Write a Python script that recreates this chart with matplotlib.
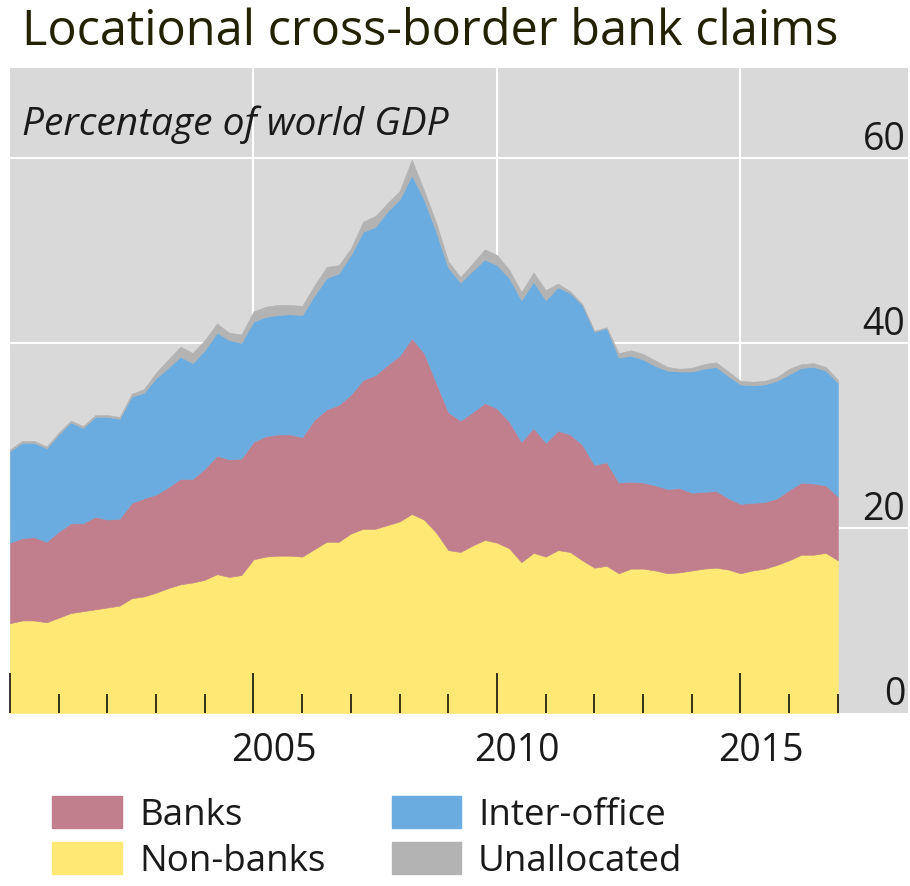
import numpy as np
import matplotlib
matplotlib.use("Agg")
import matplotlib.pyplot as plt
from matplotlib.patches import Patch
from matplotlib.transforms import ScaledTranslation

# --- dados (% do PIB mundial), trimestral 2000Q1 .. 2017Q1 ---
trimestres = np.arange(2000, 2017.01, 0.25)

non_banks = [9.7, 10.0, 10.0, 9.8, 10.3, 10.8, 11.0, 11.2, 11.4, 11.6,
             12.4, 12.6, 13.0, 13.5, 13.9, 14.1, 14.4, 15.0, 14.7, 14.9,
             16.6, 16.9, 17.0, 17.0, 16.9, 17.7, 18.5, 18.5, 19.4, 19.9,
             19.9, 20.3, 20.7, 21.5, 20.9, 19.5, 17.6, 17.4, 18.1, 18.7,
             18.4, 17.8, 16.3, 17.3, 16.9, 17.6, 17.4, 16.5, 15.7, 15.9,
             15.1, 15.6, 15.6, 15.4, 15.1, 15.2, 15.4, 15.6, 15.7, 15.5,
             15.1, 15.4, 15.6, 16.0, 16.5, 17.1, 17.1, 17.3, 16.5]

banks = [8.7, 8.9, 9.0, 8.7, 9.3, 9.7, 9.5, 10.0, 9.5, 9.4,
         10.3, 10.6, 10.6, 10.9, 11.4, 11.2, 12.0, 12.8, 12.7, 12.6,
         12.7, 13.0, 13.1, 13.1, 12.9, 14.0, 14.3, 14.8, 15.0, 16.1,
         16.6, 17.3, 17.9, 19.0, 18.0, 16.2, 14.9, 14.2, 14.4, 14.8,
         14.5, 13.7, 13.0, 13.5, 12.3, 12.9, 12.7, 12.5, 11.1, 11.2,
         9.8, 9.4, 9.3, 9.2, 9.1, 9.1, 8.4, 8.3, 8.3, 7.7,
         7.5, 7.3, 7.2, 7.2, 7.6, 7.8, 7.7, 7.3, 6.9]

inter_office = [9.9, 10.3, 10.2, 10.1, 10.5, 10.9, 10.3, 10.8, 11.1, 10.8,
                11.5, 11.4, 12.6, 12.9, 13.2, 12.5, 12.8, 13.3, 12.9, 12.5,
                13.0, 12.9, 12.9, 13.0, 13.2, 13.4, 14.2, 14.2, 15.1, 16.0,
                16.0, 16.6, 16.9, 17.6, 16.6, 16.3, 15.6, 14.9, 15.3, 15.5,
                15.5, 15.5, 15.3, 15.8, 15.4, 15.5, 15.3, 15.1, 14.4, 14.5,
                13.5, 13.6, 13.3, 12.9, 12.8, 12.6, 13.1, 13.3, 13.4, 13.2,
                12.9, 12.7, 12.7, 12.7, 12.5, 12.4, 12.6, 12.4, 12.3]

unallocated = [0.2, 0.2, 0.2, 0.2, 0.2, 0.2, 0.2, 0.2, 0.2, 0.2,
               0.3, 0.4, 0.6, 0.9, 1.1, 1.1, 1.1, 1.0, 0.8, 0.9,
               1.1, 1.1, 1.1, 1.0, 1.0, 1.1, 1.2, 0.9, 0.7, 1.1,
               1.2, 0.9, 0.9, 1.7, 1.0, 1.0, 0.7, 0.6, 0.8, 1.1,
               1.1, 0.9, 0.9, 1.0, 1.1, 0.4, 0.2, 0.1, 0.1, 0.1,
               0.5, 0.6, 0.6, 0.6, 0.4, 0.3, 0.4, 0.5, 0.5, 0.5,
               0.4, 0.4, 0.4, 0.4, 0.6, 0.4, 0.4, 0.4, 0.3]

series_nomes = ["Non-banks", "Banks", "Inter-office", "Unallocated"]
cores = ["#FFE873", "#C17F8E", "#6AACDF", "#B3B3B3"]

anos_grade = [2005, 2010, 2015]
y_grade = [20, 40, 60]
y_rotulos = [0, 20, 40, 60]
anos_major = [2000, 2005, 2010, 2015]
anos_rotulo = ["", "2005", "2010", "2015"]
anos_minor = [2001, 2002, 2003, 2004, 2006, 2007, 2008, 2009,
              2011, 2012, 2013, 2014, 2016, 2017]

fonte = "Open Sans"
cor_texto = "#1a1a1a"

fig = plt.figure(figsize=(9.1, 8.86), dpi=100)
ax = fig.add_axes([10/910, 173/886, 898/910, 645/886])
ax.set_facecolor("#D9D9D9")

# grade branca por baixo das areas
for a in anos_grade:
    ax.axvline(a, color="white", lw=1.5, zorder=0.5)
for v in y_grade:
    ax.axhline(v, color="white", lw=1.5, zorder=0.5)

polys = ax.stackplot(trimestres, non_banks, banks, inter_office, unallocated,
                     colors=cores, zorder=1)
for p, c in zip(polys, cores):
    p.set_edgecolor(c)
    p.set_linewidth(0.4)

ax.set_xlim(2000, 2018.44)
ax.set_ylim(0, 69.7)

for s in ax.spines.values():
    s.set_visible(False)

ax.set_xticks(anos_major)
ax.set_xticklabels(anos_rotulo, fontsize=27, family=fonte, color=cor_texto)
ax.set_xticks(anos_minor, minor=True)
ax.tick_params(axis="x", which="major", direction="in", length=29, width=1.1,
               color="black", pad=14)
ax.tick_params(axis="x", which="minor", direction="in", length=14, width=1.1,
               color="black")
ax.set_yticks([])

# rotulos dos anos deslocados para o meio do ano
desloc = ScaledTranslation(20/100, 0, fig.dpi_scale_trans)
for lbl in ax.get_xticklabels():
    lbl.set_transform(lbl.get_transform() + desloc)

# rotulos do eixo y dentro do grafico, acima das linhas
for v in y_rotulos:
    ax.text(0.997, v - 0.1, str(v), transform=ax.get_yaxis_transform(),
            ha="right", va="bottom", fontsize=27, family=fonte, color=cor_texto)

ax.text(0.013, 63.6, "Percentage of world GDP", transform=ax.get_yaxis_transform(),
        ha="left", va="center", fontsize=28, style="italic", family=fonte,
        color=cor_texto)

fig.text(22/910, 1 - 32/886, "Locational cross-border bank claims",
         ha="left", va="center", fontsize=35, family=fonte, color="#222200")

# legenda em duas colunas
handles = [Patch(color=cores[1], label="Banks"),
           Patch(color=cores[0], label="Non-banks"),
           Patch(color=cores[2], label="Inter-office"),
           Patch(color=cores[3], label="Unallocated")]
leg = fig.legend(handles=handles, ncol=2, loc="upper left",
                 bbox_to_anchor=(34/910, 1 - 778/886), frameon=False,
                 prop={"family": fonte, "size": 26.5},
                 handlelength=1.9, handleheight=0.95, handletextpad=0.45,
                 columnspacing=1.8, labelspacing=0.22, borderpad=0)
for t in leg.get_texts():
    t.set_color(cor_texto)

fig.savefig("out.png", dpi=100)
